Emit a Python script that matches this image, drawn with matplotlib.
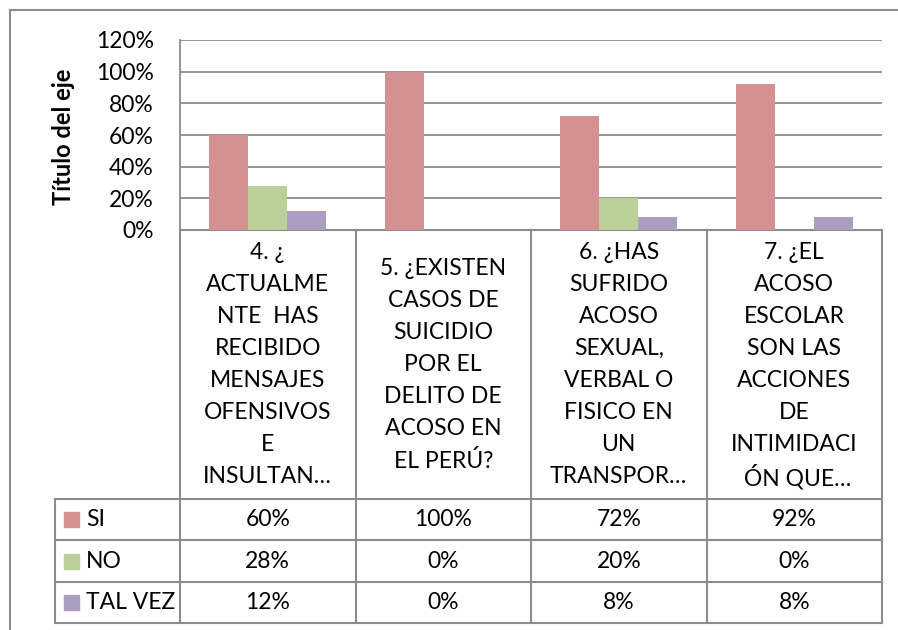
import matplotlib.pyplot as plt
from matplotlib.patches import Rectangle

plt.rcParams['font.family'] = ['Lato', 'DejaVu Sans']

# datos
categorias = [
    ["4. ¿", "ACTUALME", "NTE  HAS", "RECIBIDO", "MENSAJES", "OFENSIVOS", "E", "INSULTAN…"],
    ["5. ¿EXISTEN", "CASOS DE", "SUICIDIO", "POR EL", "DELITO DE", "ACOSO EN", "EL PERÚ?"],
    ["6. ¿HAS", "SUFRIDO", "ACOSO", "SEXUAL,", "VERBAL O", "FISICO EN", "UN", "TRANSPOR…"],
    ["7. ¿EL", "ACOSO", "ESCOLAR", "SON LAS", "ACCIONES", "DE", "INTIMIDACI", " ÓN QUE…"],
]
series = ["SI", "NO", "TAL VEZ"]
si = [60, 100, 72, 92]
no = [28, 0, 20, 0]
tal_vez = [12, 0, 8, 8]
y_ticks = [0, 20, 40, 60, 80, 100, 120]

colores = ["#D39291", "#BBD098", "#AC9DC3"]
gris = "#8C8C8C"
fs = 16.5

W, H = 898, 630
fig = plt.figure(figsize=(W / 100, H / 100), dpi=100)

# capa de fondo en pixeles para tabla y bordes
bg = fig.add_axes([0, 0, 1, 1])
bg.set_xlim(0, W)
bg.set_ylim(H, 0)
bg.axis("off")

x0, x1 = 180, 882
y_top, y_zero = 40, 230
fila_y = [499, 540, 582, 623]
tabla_izq = 55

ax = fig.add_axes([x0 / W, 1 - y_zero / H, (x1 - x0) / W, (y_zero - y_top) / H])
valores = [si, no, tal_vez]
n = len(categorias)
ancho = 0.222
for i, (serie, vals) in enumerate(zip(series, valores)):
    xs = [c + (i - 1) * ancho for c in range(n)]
    ax.bar(xs, [v / 100 for v in vals], width=ancho, color=colores[i], zorder=3)

ax.set_xlim(-0.5, n - 0.5)
ax.set_ylim(0, 1.2)
ax.set_yticks([t / 100 for t in y_ticks])
ax.set_yticklabels([f"{t}%" for t in y_ticks], fontsize=fs)
ax.tick_params(axis="y", length=0, pad=19)
ax.set_xticks([])
ax.grid(axis="y", color=gris, linewidth=1.3, zorder=0)
for s in ["top", "right", "bottom"]:
    ax.spines[s].set_visible(False)
ax.spines["left"].set_color(gris)
ax.spines["left"].set_linewidth(1.3)
ax.patch.set_alpha(0)
ax.set_ylabel("Título del eje", fontsize=17, fontweight="bold")
ax.yaxis.set_label_coords(-0.15, 0.49)

# borde exterior
bg.plot([10, 10], [10, H + 5], color=gris, lw=1.5)
bg.plot([10, W + 5], [10, 10], color=gris, lw=1.5)

# tabla de datos
lw = 1.5
col_w = (x1 - x0) / n
bg.plot([x0, x1], [y_zero, y_zero], color=gris, lw=lw)
for j in range(n + 1):
    xc = x0 + j * col_w
    bg.plot([xc, xc], [y_zero, fila_y[-1]], color=gris, lw=lw)
for y in fila_y:
    bg.plot([tabla_izq, x1], [y, y], color=gris, lw=lw)
bg.plot([tabla_izq, tabla_izq], [fila_y[0], fila_y[-1]], color=gris, lw=lw)

# etiquetas de categoria
centro = (y_zero + fila_y[0]) / 2
paso = 32
for j, lineas in enumerate(categorias):
    xc = x0 + (j + 0.5) * col_w
    m = len(lineas)
    for k, linea in enumerate(lineas):
        yk = centro + (k - (m - 1) / 2) * paso
        bg.text(xc, yk, linea, ha="center", va="center", fontsize=fs)

# filas de valores
for i, (serie, vals) in enumerate(zip(series, valores)):
    yc = (fila_y[i] + fila_y[i + 1]) / 2
    bg.add_patch(Rectangle((64, yc - 7.5), 15, 15, color=colores[i]))
    bg.text(86, yc, serie, ha="left", va="center", fontsize=fs)
    for j, v in enumerate(vals):
        xc = x0 + (j + 0.5) * col_w
        bg.text(xc, yc, f"{v}%", ha="center", va="center", fontsize=fs)

fig.savefig("out.png", dpi=100)
